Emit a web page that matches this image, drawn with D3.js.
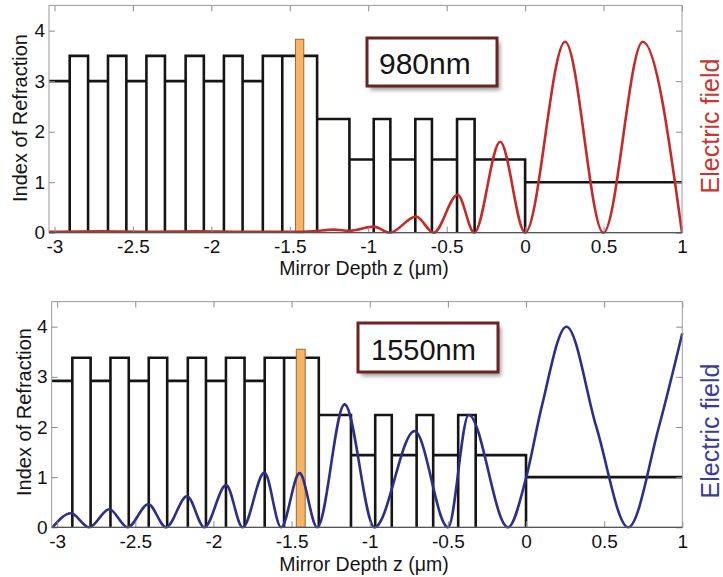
<!DOCTYPE html>
<html>
<head>
<meta charset="utf-8">
<script src="https://cdn.jsdelivr.net/npm/d3@7"></script>
<style>
  html, body { margin: 0; padding: 0; background: #fff; }
  svg { display: block; }
  text { font-family: "Liberation Sans", Arial, Helvetica, sans-serif; }
</style>
</head>
<body>
<svg id="chart" width="723" height="577"></svg>
<script>
// ---------------- DATA ----------------
// Layer boundaries of the mirror (µm), shared by both panels
const layerEdges = [-3.035, -2.903, -2.786, -2.659, -2.542, -2.414, -2.296, -2.164, -2.048, -1.920,
  -1.801, -1.672, -1.548, -1.326, -1.120, -0.965, -0.859, -0.700, -0.594, -0.434, -0.322, 0.0, 1.0];
// Refractive index of each layer
const index980 = [3.0, 3.5, 3.0, 3.5, 3.0, 3.5, 3.0, 3.5, 3.0, 3.5, 3.0, 3.5, 3.5,
  2.25, 1.45, 2.25, 1.45, 2.25, 1.45, 2.25, 1.45, 1.0];
const index1550 = [2.92, 3.38, 2.92, 3.38, 2.92, 3.38, 2.92, 3.38, 2.92, 3.38, 2.92, 3.38, 3.38,
  2.24, 1.44, 2.24, 1.44, 2.24, 1.44, 2.24, 1.44, 1.0];
// Active (orange) layer: [start, end] and its index
const active980 = [-1.464, -1.411];
const activeN980 = 3.83;
const active1550 = [-1.470, -1.413];
const activeN1550 = 3.55;

// Electric field intensity curves (z in µm, value in axis units)
const fieldZ980 = [-3.035, -2.7, -2.4, -2.1, -1.8, -1.5, -1.35, -1.22, -1.12, -0.965, -0.863, -0.695, -0.583,
  -0.430, -0.324, -0.159, 0.0, 0.255, 0.499, 0.750, 1.0];
const fieldE980 = [0.02, 0.03, 0.02, 0.03, 0.02, 0.02, 0.03, 0.06, 0.04, 0.12, 0.0, 0.32, 0.0,
  0.75, 0.0, 1.80, 0.0, 3.78, 0.0, 3.78, 0.0];
const fieldZ1550 = [-3.030, -2.912, -2.795, -2.667, -2.549, -2.417, -2.303, -2.169, -2.058, -1.919,
  -1.813, -1.674, -1.567, -1.449, -1.336, -1.161, -0.969, -0.713, -0.499, -0.367, -0.115, 0.0, 0.10,
  0.259, 0.45, 0.654, 0.85, 1.0];
const fieldE1550 = [0.0, 0.28, 0.0, 0.36, 0.0, 0.46, 0.0, 0.62, 0.0, 0.84,
  0.0, 1.09, 0.0, 1.08, 0.0, 2.45, 0.0, 1.92, 0.0, 2.24, 0.0, 0.98, 2.40,
  4.0, 2.0, 0.0, 2.0, 3.87];

const xTicks = [-3, -2.5, -2, -1.5, -1, -0.5, 0, 0.5, 1];
const yTicks = [0, 1, 2, 3, 4];
const xDomain = [-3.035, 1];
const yDomain = [0, 4.5];
const xLabel = "Mirror Depth z (\u03bcm)";
const yLabel = "Index of Refraction";
const rightLabel = "Electric field";

// ---------------- DRAW ----------------
const svg = d3.select("#chart");
const defs = svg.append("defs");
defs.append("filter").attr("id", "blur").attr("x", "-20%").attr("y", "-20%")
  .attr("width", "140%").attr("height", "140%")
  .append("feGaussianBlur").attr("stdDeviation", 2);

const panels = [
  { x0: 49, x1: 682, yTop: 5.4, yBot: 232.7, index: index980, active: active980, activeN: activeN980,
    fz: fieldZ980, fe: fieldE980, color: "#c42a28", labelColor: "#c8352d", tag: "980nm",
    box: [367, 38, 130, 48], tagX: 379, tagY: 74, tagSize: 30,
    yLabX: 27, yLabY: 118, rLabX: 719, rLabY: 126, xLabY: 275 },
  { x0: 51.7, x1: 682.3, yTop: 301.6, yBot: 527.3, index: index1550, active: active1550, activeN: activeN1550,
    fz: fieldZ1550, fe: fieldE1550, color: "#2c2e88", labelColor: "#3a3c98", tag: "1550nm",
    box: [358, 323, 140, 49], tagX: 371, tagY: 359.5, tagSize: 29,
    yLabX: 31, yLabY: 412, rLabX: 719, rLabY: 431, xLabY: 571 }
];

panels.forEach(p => {
  const x = d3.scaleLinear().domain(xDomain).range([p.x0, p.x1]);
  const y = d3.scaleLinear().domain(yDomain).range([p.yBot, p.yTop]);
  const g = svg.append("g");

  // refractive index profile
  const path = d3.path();
  for (let i = 0; i < p.index.length; i++) {
    const xa = x(layerEdges[i]), xb = x(layerEdges[i + 1]), yn = y(p.index[i]);
    if (i === 0) { path.moveTo(xa, yn); } else { path.moveTo(xa, y(0)); path.lineTo(xa, yn); }
    path.lineTo(xb, yn);
    if (i < p.index.length - 1) path.lineTo(xb, y(0));
  }
  g.append("path").attr("d", path.toString())
    .attr("fill", "none").attr("stroke", "#151515").attr("stroke-width", 2.6)
    .attr("stroke-linejoin", "miter");

  // active layer
  g.append("rect")
    .attr("x", x(p.active[0])).attr("y", y(p.activeN))
    .attr("width", x(p.active[1]) - x(p.active[0]))
    .attr("height", y(0) - y(p.activeN))
    .attr("fill", "#f6b566").attr("stroke", "#9a6838").attr("stroke-width", 1);

  // field curve
  const pts = p.fz.map((z, i) => [z, p.fe[i]]);
  const line = d3.line().x(d => x(d[0])).y(d => y(d[1])).curve(d3.curveMonotoneX);
  g.append("path").datum(pts).attr("d", line)
    .attr("fill", "none").attr("stroke", p.color).attr("stroke-width", 2.6);

  // axes
  const tickCol = "#8a8a8a";
  const axB = g.append("g").attr("transform", `translate(0,${p.yBot})`)
    .call(d3.axisBottom(x).tickValues(xTicks).tickSize(-6).tickPadding(7).tickFormat(d3.format("")));
  const axT = g.append("g").attr("transform", `translate(0,${p.yTop})`)
    .call(d3.axisTop(x).tickValues(xTicks).tickSize(-6).tickFormat(""));
  const axL = g.append("g").attr("transform", `translate(${p.x0},0)`)
    .call(d3.axisLeft(y).tickValues(yTicks).tickSize(-6).tickPadding(4).tickFormat(d3.format("")));
  const axR = g.append("g").attr("transform", `translate(${p.x1},0)`)
    .call(d3.axisRight(y).tickValues(yTicks).tickSize(-6).tickFormat(""));
  [axB, axT, axL, axR].forEach(a => {
    a.select(".domain").remove();
    a.selectAll(".tick line").attr("stroke", tickCol).attr("stroke-width", 1);
    a.selectAll("text").attr("fill", "#111").attr("font-size", 19)
      .style("font-family", '"Liberation Sans", Arial, sans-serif');
  });
  axB.selectAll(".tick text").text(d => d < 0 ? "-" + Math.abs(d) : d);

  g.append("rect").attr("x", p.x0).attr("y", p.yTop)
    .attr("width", p.x1 - p.x0).attr("height", p.yBot - p.yTop)
    .attr("fill", "none").attr("stroke", "#9a9a9a").attr("stroke-width", 1);
  g.append("line").attr("x1", p.x0).attr("x2", p.x1).attr("y1", p.yBot).attr("y2", p.yBot)
    .attr("stroke", "#555").attr("stroke-width", 1.2);

  // wavelength tag box
  const [bx, by, bw, bh] = p.box;
  g.append("rect").attr("x", bx + 3).attr("y", by + 4).attr("width", bw).attr("height", bh)
    .attr("fill", "#9a9a9a").attr("filter", "url(#blur)");
  g.append("rect").attr("x", bx).attr("y", by).attr("width", bw).attr("height", bh)
    .attr("fill", "#fff").attr("stroke", "#6a2424").attr("stroke-width", 3);
  g.append("text").attr("x", p.tagX).attr("y", p.tagY).attr("font-size", p.tagSize)
    .attr("fill", "#151515").text(p.tag);

  // labels
  g.append("text").attr("x", 364).attr("y", p.xLabY).attr("text-anchor", "middle")
    .attr("font-size", 19.5).attr("fill", "#151515").text(xLabel);
  g.append("text").attr("transform", `translate(${p.yLabX},${p.yLabY}) rotate(-90)`)
    .attr("text-anchor", "middle").attr("font-size", 20).attr("fill", "#151515").text(yLabel);
  g.append("text").attr("transform", `translate(${p.rLabX},${p.rLabY}) rotate(-90)`)
    .attr("text-anchor", "middle").attr("font-size", 25).attr("fill", p.labelColor).text(rightLabel);
});
</script>
</body>
</html>
